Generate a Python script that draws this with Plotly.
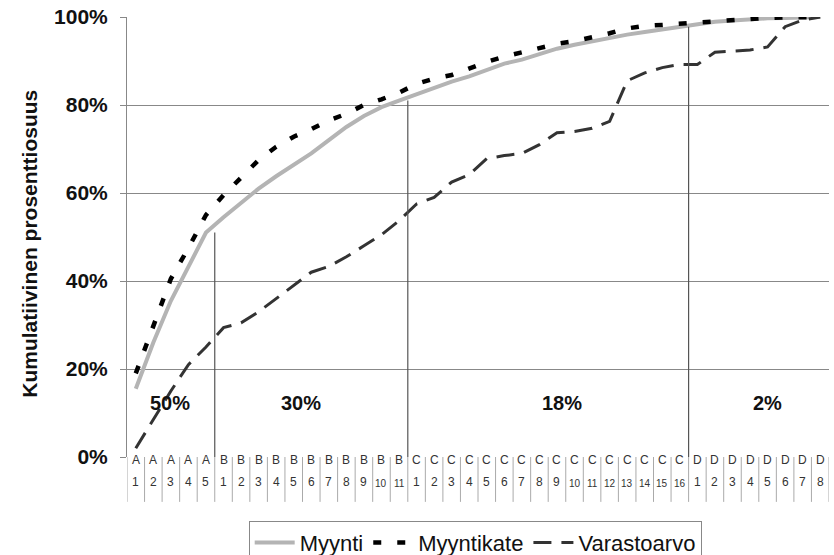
import plotly.graph_objects as go

# Product classes and item numbers within each class
class_letters = ["A"] * 5 + ["B"] * 11 + ["C"] * 16 + ["D"] * 8
class_numbers = list(range(1, 6)) + list(range(1, 12)) + list(range(1, 17)) + list(range(1, 9))

# Cumulative shares (%)
myynti = [15.5, 26, 35.5, 43.5, 51,
          54.5, 57.7, 61, 63.8, 66.3, 69, 72, 75, 77.5, 79.5, 81,
          82.5, 84, 85.3, 86.5, 88, 89.4, 90.3, 91.5, 92.8, 93.7, 94.5, 95.3, 96, 96.6, 97.2, 97.8,
          98.5, 98.9, 99.2, 99.5, 99.7, 99.8, 99.9, 100]
myyntikate = [19, 30, 40.5, 47.5, 55,
              59.5, 63.5, 67.5, 70.5, 72.8, 74.5, 76.5, 78, 80, 81.3, 82.8,
              84.8, 86, 86.8, 88.3, 89.8, 91, 92, 93, 93.9, 94.5, 95.3, 96.3, 97.4, 98, 98.2, 98.5,
              98.8, 99.1, 99.4, 99.7, 99.8, 99.9, 100, 100]
varastoarvo = [2, 8.5, 15, 21, 25,
               29.4, 30.5, 33, 36, 39, 42, 43.3, 45.5, 48, 50.5, 53.7,
               57.5, 59, 62.5, 64.2, 67.8, 68.5, 69, 71, 73.7, 74, 74.7, 76.3, 85.5, 87.3, 88.5, 89.2,
               89.2, 92, 92.3, 92.5, 93.2, 97.8, 99.3, 100]

# Share of sales per class, shown inside each section
section_labels = ["50%", "30%", "18%", "2%"]
section_label_x = [1.95, 9.4, 24.3, 36.0]
section_label_y = 12.2
# Last item index of each class (A5, B11, C16)
section_ends = [4, 15, 31]

FONT = "Arial, Liberation Sans, sans-serif"
x = list(range(len(myynti)))

fig = go.Figure()
fig.add_trace(go.Scatter(x=x, y=myynti, mode="lines", name="Myynti",
                         line=dict(color="#b4b4b4", width=4)))
fig.add_trace(go.Scatter(x=x, y=myyntikate, mode="lines", name="Myyntikate",
                         line=dict(color="#000000", width=4.5, dash="8px,16px")))
fig.add_trace(go.Scatter(x=x, y=varastoarvo, mode="lines", name="Varastoarvo",
                         line=dict(color="#333333", width=3, dash="18px,10px")))

shapes = []
# Class boundary lines from the sales curve down to the axis
for idx in section_ends:
    shapes.append(dict(type="line", xref="x", yref="y", x0=idx + 0.5, x1=idx + 0.5,
                       y0=0, y1=myynti[idx], line=dict(color="#555555", width=1.2)))

# Category table under the axis
table_bottom = -0.102
for i in range(len(x) + 1):
    shapes.append(dict(type="line", xref="x", yref="paper", x0=i - 0.5, x1=i - 0.5,
                       y0=0, y1=table_bottom, line=dict(color="#aaaaaa", width=1)))

annotations = []
for i, (letter, num) in enumerate(zip(class_letters, class_numbers)):
    annotations.append(dict(x=i, y=-0.027, xref="x", yref="paper", text=letter,
                            showarrow=False, font=dict(family=FONT, size=12, color="#333333")))
    annotations.append(dict(x=i, y=-0.077, xref="x", yref="paper", text=str(num),
                            showarrow=False,
                            font=dict(family=FONT, size=12 if num < 10 else 10, color="#333333")))

for txt, lx in zip(section_labels, section_label_x):
    annotations.append(dict(x=lx, y=section_label_y, xref="x", yref="y", text=f"<b>{txt}</b>",
                            showarrow=False, font=dict(family=FONT, size=20, color="#111111")))

annotations.append(dict(x=-0.14, y=0.484, xref="paper", yref="paper", xanchor="center",
                        yanchor="middle",
                        text="<b>Kumulatiivinen prosenttiosuus</b>", textangle=-90,
                        showarrow=False, font=dict(family=FONT, size=21, color="#111111")))

fig.update_layout(
    width=834, height=555,
    margin=dict(l=127, r=5, t=15, b=98),
    paper_bgcolor="white", plot_bgcolor="white",
    font=dict(family=FONT, color="#111111"),
    shapes=shapes, annotations=annotations,
    showlegend=True,
    legend=dict(orientation="h", x=0.496, xanchor="center",
                xref="paper", yref="container", y=0.062, yanchor="top",
                bordercolor="#888888", borderwidth=1, bgcolor="white",
                entrywidth=0, itemwidth=40,
                font=dict(family=FONT, size=22, color="#111111")),
    xaxis=dict(range=[-0.5, len(x) - 0.5], showgrid=False, zeroline=False,
               showticklabels=False, showline=False, fixedrange=True),
    yaxis=dict(range=[0, 100], dtick=20, ticksuffix="%", showgrid=True, gridcolor="#888888",
               gridwidth=1, zeroline=False, showline=True, linecolor="#888888",
               ticks="outside", ticklen=6, tickcolor="#888888",
               tickfont=dict(family=FONT, size=21, color="#111111"),
               tickprefix="<b>", ticklabelstandoff=8),
)
fig.update_yaxes(tickformat="d")

fig.write_html("out.html")
